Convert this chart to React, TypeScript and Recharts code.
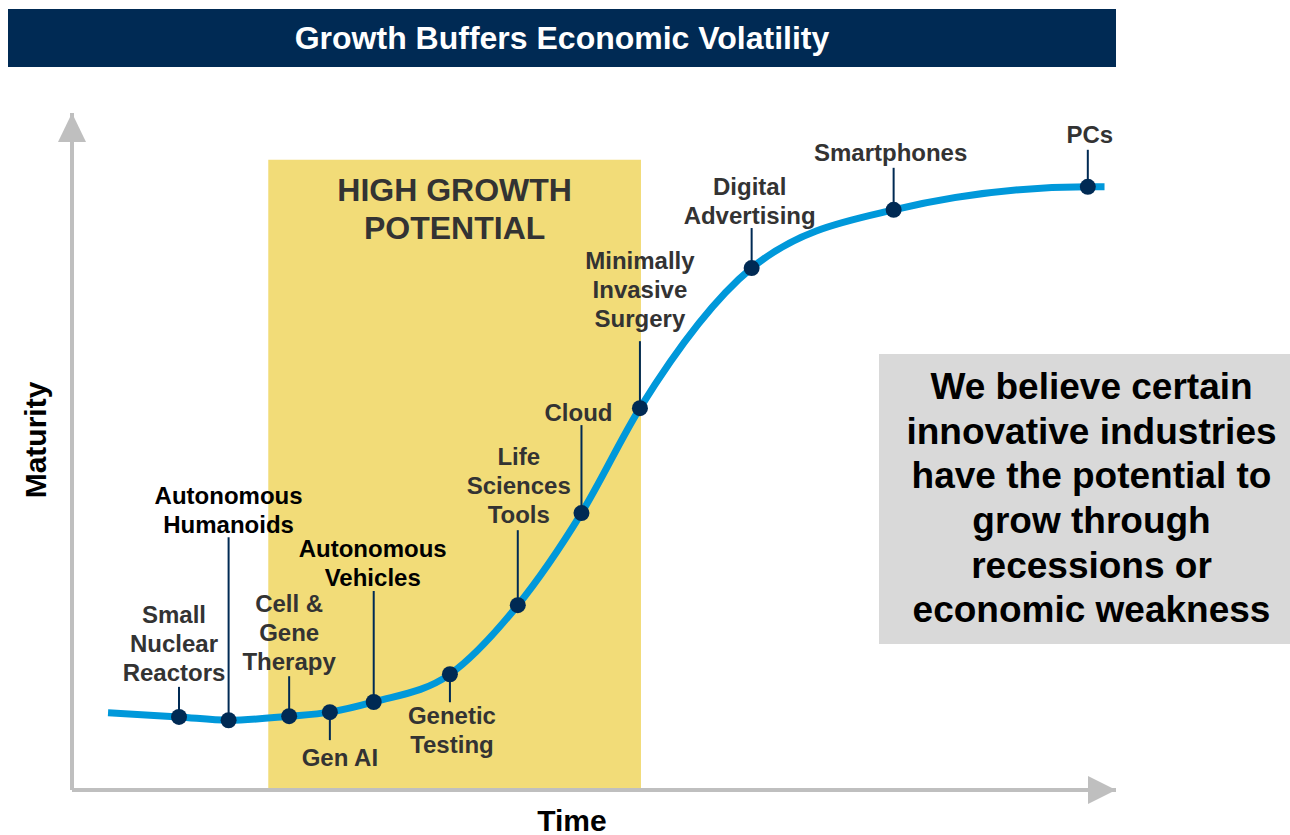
import React from "react";
import {
  ComposedChart, Line, Scatter, XAxis, YAxis, ReferenceArea, ReferenceDot, ReferenceLine, Label,
} from "recharts";

// S-curve of industry maturity over time (0-100 scale on both axes)
const stageNames = [
  "Small Nuclear Reactors",
  "Autonomous Humanoids",
  "Cell & Gene Therapy",
  "Gen AI",
  "Autonomous Vehicles",
  "Genetic Testing",
  "Life Sciences Tools",
  "Cloud",
  "Minimally Invasive Surgery",
  "Digital Advertising",
  "Smartphones",
  "PCs",
];
const stageLines = [
  ["Small", "Nuclear", "Reactors"],
  ["Autonomous", "Humanoids"],
  ["Cell &", "Gene", "Therapy"],
  ["Gen AI"],
  ["Autonomous", "Vehicles"],
  ["Genetic", "Testing"],
  ["Life", "Sciences", "Tools"],
  ["Cloud"],
  ["Minimally", "Invasive", "Surgery"],
  ["Digital", "Advertising"],
  ["Smartphones"],
  ["PCs"],
];
const stageTime = [10.25, 15.0, 20.8, 24.7, 28.9, 36.2, 42.7, 48.8, 54.4, 65.1, 78.7, 97.3];
const stageMaturity = [10.8, 10.3, 10.9, 11.5, 13.0, 17.1, 27.3, 40.9, 56.4, 77.1, 85.7, 89.1];

const curveStart = { t: 3.45, m: 11.4 };
const curveEnd = { t: 98.9, m: 89.1 };

const highGrowthTime = [18.8, 54.5];
const highGrowthTop = 93.1;

const calloutLines = [
  "We believe certain",
  "innovative industries",
  "have the potential to",
  "grow through",
  "recessions or",
  "economic weakness",
];

// label placement (pixels relative to the dot)
const labelLayout = [
  { leader: -30, dx: -5, first: -102 },
  { leader: -183, dx: 0, first: -225 },
  { leader: -40, dx: 0, first: -113 },
  { leader: 28, dx: 10, first: 45 },
  { leader: -111, dx: -1, first: -153 },
  { leader: 28, dx: 2, first: 41 },
  { leader: -75, dx: 1, first: -149 },
  { leader: -88, dx: -3, first: -101 },
  { leader: -67, dx: 0, first: -148 },
  { leader: -40, dx: -2, first: -82 },
  { leader: -42, dx: -3, first: -57 },
  { leader: -37, dx: 2, first: -52 },
];
const emphasis = new Set(["Autonomous Humanoids", "Autonomous Vehicles"]);

const FONT = "'Liberation Sans', Arial, sans-serif";
const NAVY = "#002A54";
const AXIS = "#BFBFBF";

const stages = stageNames.map((name, i) => ({
  name,
  i,
  t: stageTime[i],
  m: stageMaturity[i],
}));
const curve = [curveStart, ...stages.map((s) => ({ t: s.t, m: s.m })), curveEnd];

function StageMarker(props: any) {
  const { cx, cy, payload } = props;
  const lay = labelLayout[payload.i];
  const color = emphasis.has(payload.name) ? "#000000" : "#333333";
  return (
    <g>
      <line x1={cx} y1={cy} x2={cx} y2={cy + lay.leader} stroke={NAVY} strokeWidth={2} />
      <circle cx={cx} cy={cy} r={8} fill={NAVY} />
      {stageLines[payload.i].map((txt, k) => (
        <text
          key={k}
          x={cx + lay.dx}
          y={cy + lay.first + k * 29}
          textAnchor="middle"
          dominantBaseline="central"
          fontFamily={FONT}
          fontWeight={700}
          fontSize={24}
          fill={color}
        >
          {txt}
        </text>
      ))}
    </g>
  );
}

export default function App() {
  return (
    <div style={{ position: "absolute", left: 0, top: 0, width: 1290, height: 835, background: "#fff", fontFamily: FONT }}>
      <div
        style={{
          position: "absolute", left: 8, top: 9, width: 1108, height: 58, background: NAVY,
          color: "#fff", fontWeight: 700, fontSize: 32, display: "flex",
          alignItems: "center", justifyContent: "center",
        }}
      >
        Growth Buffers Economic Volatility
      </div>

      <div style={{ position: "absolute", left: 0, top: 0 }}>
        <ComposedChart width={1290} height={835} margin={{ top: 113, right: 174, bottom: 45, left: 72 }}>
          <XAxis dataKey="t" type="number" domain={[0, 100]} allowDataOverflow hide />
          <YAxis dataKey="m" type="number" domain={[0, 100]} allowDataOverflow hide />

          <ReferenceArea
            x1={highGrowthTime[0]} x2={highGrowthTime[1]} y1={0} y2={highGrowthTop}
            fill="#F2DC78" fillOpacity={1} stroke="none" ifOverflow="visible"
          >
            <Label
              content={(p: any) => {
                const vb = p.viewBox;
                const mid = vb.x + vb.width / 2;
                return (
                  <g>
                    {["HIGH GROWTH", "POTENTIAL"].map((s, k) => (
                      <text key={k} x={mid} y={vb.y + 30 + k * 38} textAnchor="middle"
                        dominantBaseline="central" fontFamily={FONT} fontWeight={700}
                        fontSize={32} fill="#333333">
                        {s}
                      </text>
                    ))}
                  </g>
                );
              }}
            />
          </ReferenceArea>

          <ReferenceLine
            x={0} stroke={AXIS} strokeWidth={4} ifOverflow="visible"
          >
            <Label
              content={() => (
                <text x={35} y={440} textAnchor="middle" dominantBaseline="central"
                  transform="rotate(-90 35 440)"
                  fontFamily={FONT} fontWeight={700} fontSize={30} fill="#000">
                  Maturity
                </text>
              )}
            />
          </ReferenceLine>
          <ReferenceLine
            y={0} stroke={AXIS} strokeWidth={4} ifOverflow="visible"
          >
            <Label
              content={() => (
                <text x={572} y={820} textAnchor="middle" dominantBaseline="central"
                  fontFamily={FONT} fontWeight={700} fontSize={30} fill="#000">
                  Time
                </text>
              )}
            />
          </ReferenceLine>

          <ReferenceDot
            x={0} y={100} ifOverflow="visible"
            shape={(p: any) => (
              <polygon points={`${p.cx},${p.cy} ${p.cx - 14},${p.cy + 29} ${p.cx + 14},${p.cy + 29}`} fill={AXIS} />
            )}
          />
          <ReferenceDot
            x={100} y={0} ifOverflow="visible"
            shape={(p: any) => (
              <polygon points={`${p.cx},${p.cy} ${p.cx - 28},${p.cy - 14} ${p.cx - 28},${p.cy + 14}`} fill={AXIS} />
            )}
          />

          <Line
            data={curve} dataKey="m" type="monotone" stroke="#0098DA" strokeWidth={7}
            dot={false} activeDot={false} isAnimationActive={false}
          />
          <Scatter data={stages} dataKey="m" shape={StageMarker} isAnimationActive={false} />
        </ComposedChart>
      </div>

      <div
        style={{
          position: "absolute", left: 879, top: 354, width: 411, height: 290, background: "#D9D9D9",
          display: "flex", flexDirection: "column", justifyContent: "center", alignItems: "center",
          fontWeight: 700, fontSize: 37, lineHeight: "44.6px", color: "#000",
          boxSizing: "border-box", paddingLeft: 14,
        }}
      >
        {calloutLines.map((l, k) => (
          <div key={k} style={{ whiteSpace: "nowrap" }}>{l}</div>
        ))}
      </div>
    </div>
  );
}
